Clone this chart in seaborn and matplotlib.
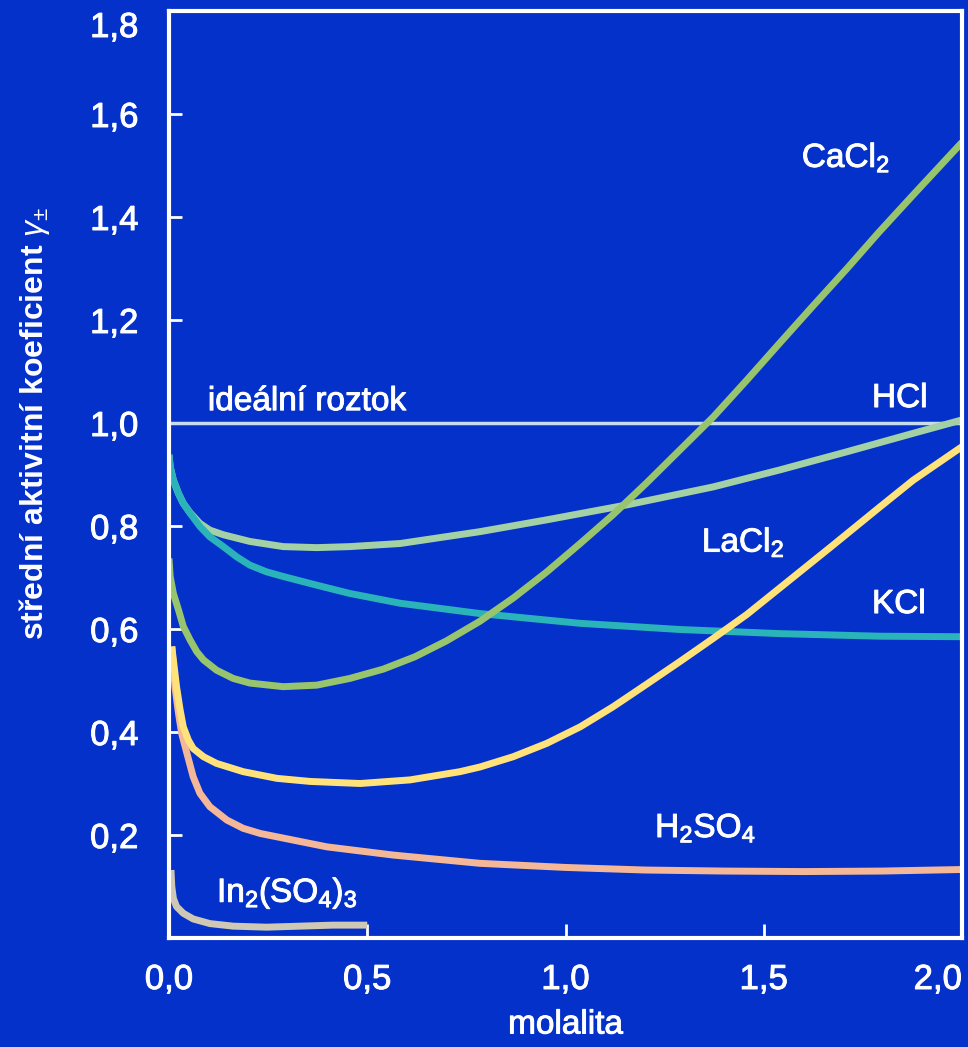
import matplotlib
matplotlib.use("Agg")
import matplotlib.pyplot as plt
import matplotlib.patheffects as pe
import seaborn as sns
import pandas as pd

# values
kcl_x = [0, 0.003, 0.011, 0.024, 0.036, 0.053, 0.078, 0.103, 0.137, 0.171, 0.204, 0.246, 0.288, 0.373,
         0.456, 0.583, 0.784, 1.037, 1.289, 1.541, 1.793, 2.0]
kcl_y = [0.938, 0.915, 0.889, 0.863, 0.844, 0.825, 0.799, 0.779, 0.76, 0.74, 0.724, 0.711, 0.702, 0.685,
         0.669, 0.65, 0.63, 0.611, 0.599, 0.591, 0.586, 0.585]

hcl_x = [0, 0.003, 0.011, 0.024, 0.036, 0.053, 0.078, 0.103, 0.137, 0.204, 0.288, 0.373, 0.456, 0.583,
         0.784, 0.953, 1.155, 1.373, 1.541, 1.709, 1.877, 2.0]
hcl_y = [0.938, 0.915, 0.889, 0.863, 0.844, 0.826, 0.805, 0.792, 0.783, 0.77, 0.76, 0.758, 0.76, 0.766,
         0.789, 0.812, 0.841, 0.876, 0.909, 0.944, 0.98, 1.006]

cacl2_x = [0, 0.003, 0.011, 0.024, 0.036, 0.053, 0.07, 0.087, 0.12, 0.162, 0.204, 0.288, 0.373, 0.456,
           0.54, 0.62, 0.70, 0.784, 0.868, 0.953, 1.037, 1.12, 1.205, 1.289, 1.373, 1.457, 1.54, 1.625,
           1.71, 1.79, 1.877, 2.0]
cacl2_y = [0.737, 0.702, 0.669, 0.637, 0.605, 0.579, 0.556, 0.54, 0.52, 0.504, 0.495, 0.488, 0.491, 0.504,
           0.522, 0.546, 0.577, 0.615, 0.660, 0.711, 0.766, 0.822, 0.884, 0.948, 1.012, 1.083, 1.155, 1.228,
           1.30, 1.37, 1.443, 1.545]

lacl_x = [0.007, 0.011, 0.019, 0.028, 0.036, 0.049, 0.061, 0.087, 0.12, 0.187, 0.272, 0.356, 0.482, 0.608,
          0.734, 0.784, 0.868, 0.953, 1.037, 1.12, 1.205, 1.289, 1.373, 1.457, 1.541, 1.667, 1.793, 1.877, 2.0]
lacl_y = [0.566, 0.54, 0.488, 0.443, 0.41, 0.384, 0.368, 0.352, 0.339, 0.323, 0.31, 0.304, 0.30, 0.307,
          0.323, 0.332, 0.352, 0.378, 0.41, 0.449, 0.493, 0.537, 0.582, 0.628, 0.68, 0.758, 0.837, 0.889, 0.954]

h2so4_x = [0.007, 0.011, 0.015, 0.024, 0.032, 0.045, 0.061, 0.078, 0.103, 0.146, 0.187, 0.23, 0.314, 0.398,
           0.566, 0.784, 1.0, 1.2, 1.4, 1.6, 1.8, 2.0]
h2so4_y = [0.566, 0.527, 0.488, 0.436, 0.397, 0.359, 0.313, 0.281, 0.255, 0.229, 0.213, 0.203, 0.19, 0.177,
           0.161, 0.145, 0.137, 0.132, 0.130, 0.129, 0.130, 0.133]

in2_x = [0.005, 0.007, 0.011, 0.019, 0.036, 0.061, 0.103, 0.162, 0.246, 0.33, 0.414, 0.5]
in2_y = [0.132, 0.10, 0.077, 0.061, 0.048, 0.037, 0.028, 0.023, 0.021, 0.023, 0.025, 0.025]

ideal_y = 1.0

x_ticks = [0, 0.5, 1.0, 1.5, 2.0]
x_labels = ["0,0", "0,5", "1,0", "1,5", "2,0"]
y_ticks = [0.2, 0.4, 0.6, 0.8, 1.0, 1.2, 1.4, 1.6, 1.8]
y_labels = ["0,2", "0,4", "0,6", "0,8", "1,0", "1,2", "1,4", "1,6", "1,8"]

bg = "#0331C9"
white = "white"
thick = [pe.withStroke(linewidth=0.7, foreground=white)]

sns.set_theme(style="ticks")
plt.rcParams['font.family'] = ['Liberation Sans', 'DejaVu Sans']
plt.rcParams['mathtext.fontset'] = 'custom'
plt.rcParams['mathtext.rm'] = 'Liberation Sans'
plt.rcParams['mathtext.it'] = 'Liberation Sans:italic'
plt.rcParams['mathtext.bf'] = 'Liberation Sans:bold'

fig = plt.figure(figsize=(9.68, 10.47), dpi=100, facecolor=bg)
ax = fig.add_axes([169/968, 1 - 938/1047, (962 - 169)/968, (938 - 11)/1047])
ax.set_facecolor(bg)

ax.axhline(ideal_y, color="#C8DCF0", lw=2.5, zorder=1)

series = [
    (hcl_x, hcl_y, "#A3D1A5"),
    (kcl_x, kcl_y, "#2AB3B8"),
    (cacl2_x, cacl2_y, "#98C46E"),
    (h2so4_x, h2so4_y, "#F4B898"),
    (lacl_x, lacl_y, "#FFE27A"),
    (in2_x, in2_y, "#CEC8B5"),
]
for xs, ys, col in series:
    df = pd.DataFrame({"m": xs, "g": ys})
    sns.lineplot(data=df, x="m", y="g", ax=ax, color=col, lw=5, estimator=None,
                 solid_capstyle="butt", solid_joinstyle="round", zorder=2)

ax.set_xlim(0, 2.0)
ax.set_ylim(0, 1.8)
ax.set_xticks(x_ticks)
ax.set_xticklabels(x_labels)
ax.set_yticks(y_ticks)
ax.set_yticklabels(y_labels)

for s in ax.spines.values():
    s.set_color(white)
    s.set_linewidth(3)
ax.tick_params(axis="both", direction="in", colors=white, labelsize=25, width=2, length=9)
ax.tick_params(axis="x", pad=18, length=10)
ax.tick_params(axis="y", pad=22)
for t in ax.get_xticklabels() + ax.get_yticklabels():
    t.set_path_effects(thick)
ax.get_xticklabels()[-1].set_horizontalalignment("right")
ax.get_yticklabels()[-1].set_verticalalignment("top")

ax.set_xlabel("")
ax.set_ylabel("")
fig.text((169 + 962) / 2 / 968, 1 - 1025/1047, "molalita", color=white,
         fontsize=24, ha="center", va="center", path_effects=thick)
fig.text(0.036, 1 - 423/1047, r"střední aktivitní koeficient $\gamma_{\pm}$", color=white,
         fontsize=23, fontweight="bold", rotation=90, ha="center", va="center")

lab = dict(color=white, fontsize=24, ha="left", va="baseline", path_effects=thick)
ax.text(1.596, 1.497, r"CaCl$_2$", **lab)
ax.text(1.773, 1.031, "HCl", **lab)
ax.text(1.344, 0.750, r"LaCl$_2$", **lab)
ax.text(1.773, 0.631, "KCl", **lab)
ax.text(1.226, 0.196, r"H$_2$SO$_4$", **lab)
ax.text(0.121, 0.070, r"In$_2$(SO$_4$)$_3$", **lab)
ax.text(0.098, 1.025, "ideální roztok", **lab)

fig.savefig("out.png", dpi=100, facecolor=bg)
